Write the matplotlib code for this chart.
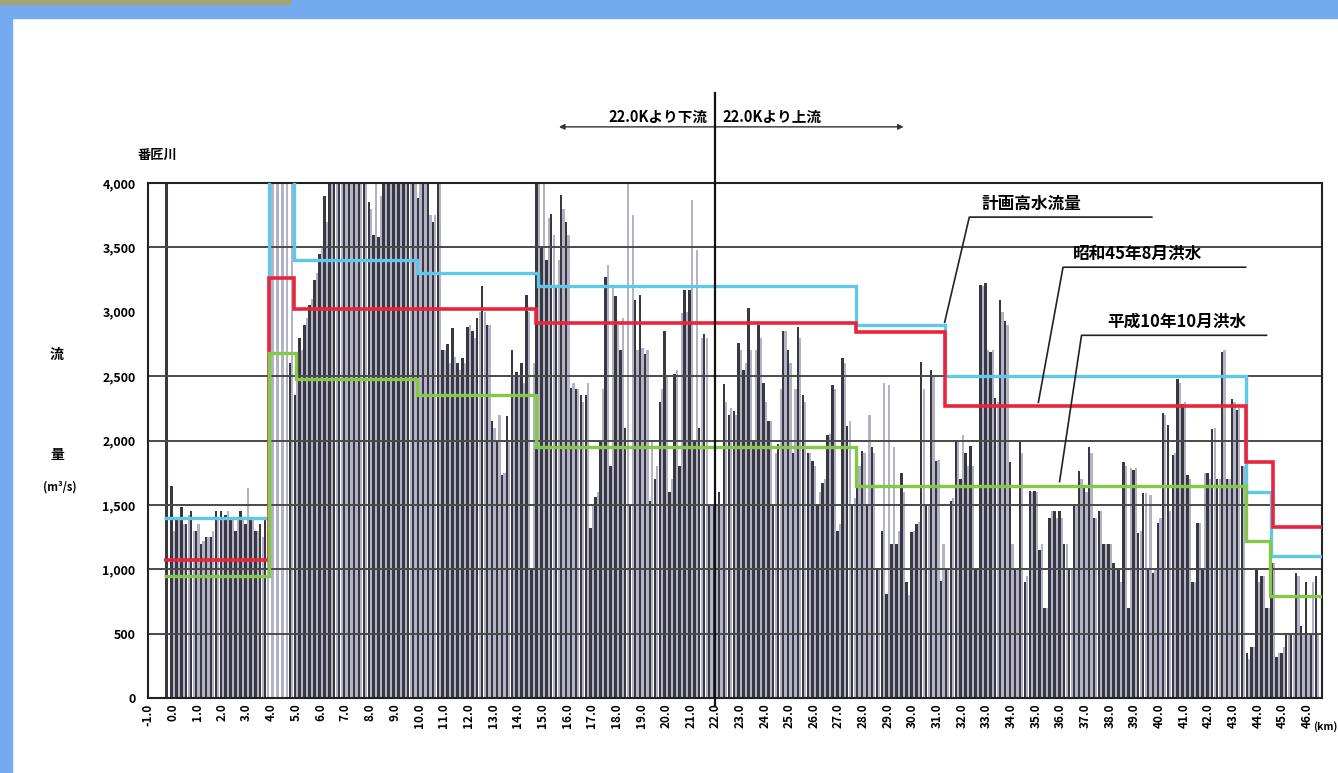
import numpy as np
import matplotlib
matplotlib.use("Agg")
import matplotlib.pyplot as plt
from matplotlib.patches import Rectangle

plt.rcParams['font.family'] = ['Noto Sans CJK JP', 'DejaVu Sans']

# ---------------- data ----------------
river_name = "番匠川"
y_label_top = "流"
y_label_bottom = "量"
y_unit = "(m³/s)"
label_plan = "計画高水流量"
label_s45 = "昭和45年8月洪水"
label_h10 = "平成10年10月洪水"
label_down = "22.0Kより下流"
label_up = "22.0Kより上流"
divider_km = 22.0

# distance of each cross-section (km), every 0.2 km
sections = np.round(np.arange(-1.0, 46.41, 0.2), 1)

# flow capacity, dark series (one bank), one row per km
capacity_dark = [
    0, 0, 0, 0, 4000,                    # -1
    1650, 1400, 1480, 1350, 1450,        # 0
    1300, 1200, 1250, 1250, 1450,        # 1
    1450, 1420, 1380, 1300, 1450,        # 2
    1350, 1400, 1300, 1350, 1400,        # 3
    0, 0, 0, 0, 2600,                    # 4
    2350, 2800, 2900, 3050, 3250,        # 5
    3450, 3900, 4000, 4000, 4000,        # 6
    4000, 4000, 4000, 4000, 4000,        # 7
    3850, 3600, 3580, 4000, 4000,        # 8
    4000, 4000, 4000, 4000, 4000,        # 9
    3880, 4000, 4000, 3700, 4000,        # 10
    2700, 2750, 2870, 2600, 2640,        # 11
    2880, 2850, 2950, 3200, 2900,        # 12
    2150, 2000, 1730, 2190, 2700,        # 13
    2530, 2600, 3130, 1000, 4000,        # 14
    3500, 3400, 3760, 3200, 3910,        # 15
    3700, 2410, 2400, 2350, 2350,        # 16
    1320, 1560, 2000, 3270, 1800,        # 17
    3120, 2700, 2100, 1500, 3090,        # 18
    3130, 2670, 1530, 1700, 2300,        # 19
    2850, 1600, 2520, 1800, 3170,        # 20
    3170, 2000, 2100, 2830, 1500,        # 21
    1500, 1600, 2440, 2200, 2230,        # 22
    2760, 2550, 3030, 2000, 2900,        # 23
    2450, 2150, 1500, 1970, 2850,        # 24
    2700, 1900, 2880, 2350, 1900,        # 25
    1840, 1500, 1670, 2040, 2430,        # 26
    1300, 2640, 2110, 1510, 1850,        # 27
    1920, 1500, 1950, 1000, 1300,        # 28
    810, 1200, 1200, 1750, 900,          # 29
    1290, 1350, 2610, 1500, 2550,        # 30
    1840, 910, 1000, 1530, 2000,         # 31
    1700, 1900, 1960, 1000, 3210,        # 32
    3220, 2690, 2330, 3090, 2930,        # 33
    1830, 1000, 1990, 900, 1610,         # 34
    1610, 1150, 700, 1400, 1450,         # 35
    1450, 1200, 1000, 1490, 1760,        # 36
    1650, 1950, 1400, 1450, 1200,        # 37
    1200, 1050, 1000, 1830, 700,         # 38
    1770, 1280, 1590, 1000, 970,         # 39
    1360, 2210, 2120, 1890, 2480,        # 40
    2280, 1730, 900, 1360, 1000,         # 41
    1750, 2090, 1700, 2690, 1700,        # 42
    2320, 2240, 1800, 350, 400,          # 43
    1000, 950, 700, 1050, 320,           # 44
    350, 500, 500, 970, 560,             # 45
    900, 500, 950,                       # 46
]

# flow capacity, light series (other bank)
capacity_light = [
    0, 0, 0, 0, 0,                       # -1
    1300, 1380, 1350, 1420, 1300,        # 0
    1350, 1220, 1250, 1300, 1400,        # 1
    1400, 1450, 1400, 1380, 1400,        # 2
    1630, 1380, 1300, 1250, 1300,        # 3
    4000, 4000, 4000, 4000, 4000,        # 4
    2500, 2700, 2950, 3100, 3300,        # 5
    3500, 3700, 4000, 4000, 4000,        # 6
    4000, 4000, 4000, 4000, 4000,        # 7
    3800, 4000, 3900, 4000, 4000,        # 8
    4000, 4000, 4000, 4000, 4000,        # 9
    4000, 4000, 3750, 3750, 4000,        # 10
    2700, 2600, 2650, 2550, 2600,        # 11
    2900, 2800, 3000, 3000, 2900,        # 12
    2100, 2200, 1750, 2000, 2500,        # 13
    2500, 2450, 3000, 2600, 4000,        # 14
    4000, 3730, 3600, 3400, 3800,        # 15
    3600, 2450, 2400, 2300, 2450,        # 16
    1500, 1600, 2400, 3360, 3200,        # 17
    2900, 2950, 4000, 3750, 2700,        # 18
    2720, 2700, 2000, 1800, 2400,        # 19
    2500, 1700, 2550, 2990, 3000,        # 20
    3870, 3480, 2800, 2800, 1500,        # 21
    1500, 1500, 2300, 2250, 2200,        # 22
    2700, 2600, 2700, 2700, 2800,        # 23
    2300, 2150, 1900, 2400, 2850,        # 24
    2600, 2400, 2800, 2300, 1900,        # 25
    1800, 1600, 1700, 2050, 2400,        # 26
    1350, 2600, 2150, 1550, 1800,        # 27
    1900, 2200, 1900, 1000, 2450,        # 28
    2430, 1950, 1300, 1600, 800,         # 29
    1300, 1370, 2400, 1500, 2500,        # 30
    1850, 1200, 1000, 1550, 2000,        # 31
    2040, 1800, 1800, 1000, 3200,        # 32
    2700, 2700, 2300, 3000, 2900,        # 33
    1200, 1000, 1900, 950, 1600,         # 34
    1600, 1200, 700, 1450, 1400,         # 35
    1400, 1200, 1000, 1500, 1700,        # 36
    1600, 1900, 1400, 1450, 1200,        # 37
    1200, 1000, 900, 1800, 1790,         # 38
    1790, 1300, 1590, 1580, 1000,        # 39
    1400, 2200, 1450, 1900, 2450,        # 40
    2300, 1700, 900, 1360, 1750,         # 41
    1700, 2100, 1700, 2700, 1700,        # 42
    2300, 2250, 1800, 300, 400,          # 43
    900, 950, 700, 1050, 350,            # 44
    400, 500, 500, 950, 500,             # 45
    500, 900, 500,                       # 46
]

# step lines: edges (km) and discharge (m3/s)
plan_edges = [-0.35, 3.9, 4.92, 9.9, 14.8, 27.7, 31.3, 43.5, 44.55, 46.6]
plan_flow = [1400, 4300, 3400, 3300, 3200, 2900, 2500, 1600, 1100]
s45_edges = [-0.35, 3.9, 4.92, 14.75, 27.7, 31.3, 43.5, 44.6, 46.6]
s45_flow = [1070, 3260, 3020, 2910, 2840, 2270, 1830, 1330]
h10_edges = [-0.35, 3.9, 5.0, 9.9, 14.75, 27.7, 43.5, 44.5, 46.6]
h10_flow = [950, 2680, 2475, 2350, 1950, 1650, 1220, 790]

km_ticks = list(range(-1, 47))
y_ticks = [0, 500, 1000, 1500, 2000, 2500, 3000, 3500, 4000]
grid_levels = [500, 1000, 1500, 2000, 2500, 3500]

# ---------------- figure ----------------
W, H = 1338, 773
fig = plt.figure(figsize=(W / 100, H / 100), dpi=100)
fig.patch.set_facecolor('white')
# screenshot frame
fig.patches.append(Rectangle((0, 0), 12 / W, 1, transform=fig.transFigure,
                             color='#74abf0', zorder=0))
fig.patches.append(Rectangle((0, 1 - 18 / H), 1, 18 / H, transform=fig.transFigure,
                             color='#74abf0', zorder=0))
fig.patches.append(Rectangle((0, 1 - 4 / H), 290 / W, 4 / H, transform=fig.transFigure,
                             color='#a3a47a', zorder=1))

ax = fig.add_axes([148 / W, 1 - 698 / H, (1322 - 148) / W, (698 - 183) / H])
ax.set_xlim(-1.0, 46.6)
ax.set_ylim(0, 4000)

ax.bar(sections - 0.05, capacity_dark, width=0.1, color='#383843',
       edgecolor='none', zorder=1)
ax.bar(sections + 0.05, capacity_light, width=0.09, color='#b4b3c6',
       edgecolor='none', zorder=1)

for g in grid_levels:
    ax.axhline(g, color='#4a4a4a', lw=1.4, zorder=2)

ax.stairs(plan_flow, plan_edges, baseline=None, color='#5ec8ea', lw=2.4, zorder=4)
ax.stairs(s45_flow, s45_edges, baseline=None, color='#e8253b', lw=2.6, zorder=4)
ax.stairs(h10_flow, h10_edges, baseline=None, color='#85c846', lw=2.4, zorder=4)

for s in ax.spines.values():
    s.set_linewidth(1.5)
    s.set_color('#222222')

ax.set_yticks(y_ticks)
ax.set_yticklabels([f"{v:,}" for v in y_ticks], fontsize=9, fontweight='bold')
ax.set_xticks(km_ticks)
ax.set_xticklabels([f"{v:.1f}" for v in km_ticks], rotation=90, fontsize=8.5,
                   fontweight='bold')
ax.tick_params(axis='y', length=0, pad=9)
ax.tick_params(axis='x', length=0, pad=4)

# divider line and section arrow
ax.plot([divider_km, divider_km], [-60, 4700], color='#111111', lw=1.6,
        clip_on=False, zorder=5)
ax.annotate('', xy=(15.55, 4436), xytext=(29.75, 4436),
            arrowprops=dict(arrowstyle='<|-|>', color='#333333', lw=1.0,
                            mutation_scale=8),
            annotation_clip=False)
ax.text(divider_km - 0.3, 4450, label_down, ha='right', va='bottom',
        fontsize=10.5, fontweight='bold', clip_on=False)
ax.text(divider_km + 0.3, 4450, label_up, ha='left', va='bottom',
        fontsize=10.5, fontweight='bold', clip_on=False)

# leader labels
leaders = [
    (label_plan, 32.8, 3770, [(31.3, 2918), (32.3, 3735), (39.7, 3735)]),
    (label_s45, 36.5, 3380, [(35.1, 2296), (36.1, 3346), (43.5, 3346)]),
    (label_h10, 37.9, 2850, [(35.96, 1681), (36.85, 2817), (44.35, 2817)]),
]
for text, tx, ty, pts in leaders:
    xs = [p[0] for p in pts]
    ys = [p[1] for p in pts]
    ax.plot(xs, ys, color='#222222', lw=1.2, zorder=5)
    ax.text(tx, ty, text, ha='left', va='bottom', fontsize=12,
            fontweight='bold', zorder=6)

# titles / axis labels
fig.text(138 / W, 1 - 155 / H, river_name, ha='left', va='center',
         fontsize=9.5, fontweight='bold')
fig.text(57 / W, 1 - 355 / H, y_label_top, ha='center', va='center',
         fontsize=10, fontweight='bold')
fig.text(57 / W, 1 - 455 / H, y_label_bottom, ha='center', va='center',
         fontsize=10, fontweight='bold')
fig.text(60 / W, 1 - 487 / H, y_unit, ha='center', va='center',
         fontsize=8, fontweight='bold')
fig.text(1313 / W, 1 - 727 / H, "(km)", ha='left', va='center',
         fontsize=7.5, fontweight='bold')

fig.savefig('out.png', dpi=100, facecolor='white')
